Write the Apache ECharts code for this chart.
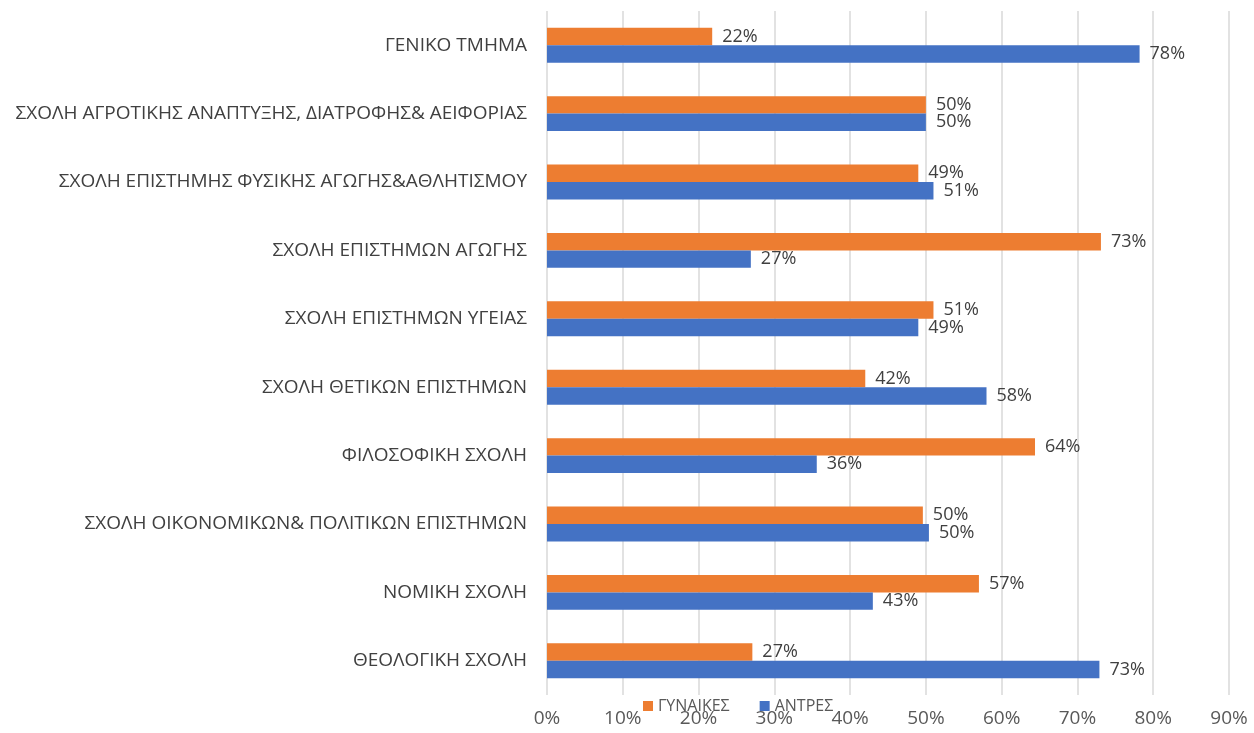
<!DOCTYPE html>
<html>
<head>
<meta charset="utf-8">
<script src="https://cdn.jsdelivr.net/npm/echarts@6/dist/echarts.min.js"></script>
<style>
  html, body { margin: 0; padding: 0; background: #fff; }
  #main { width: 1254px; height: 733px; }
</style>
</head>
<body>
<div id="main"></div>
<script>
// σχολές, από πάνω προς τα κάτω
var categories = [
    'ΓΕΝΙΚΟ ΤΜΗΜΑ',
    'ΣΧΟΛΗ ΑΓΡΟΤΙΚΗΣ ΑΝΑΠΤΥΞΗΣ, ΔΙΑΤΡΟΦΗΣ& ΑΕΙΦΟΡΙΑΣ',
    'ΣΧΟΛΗ ΕΠΙΣΤΗΜΗΣ ΦΥΣΙΚΗΣ ΑΓΩΓΗΣ&ΑΘΛΗΤΙΣΜΟΥ',
    'ΣΧΟΛΗ ΕΠΙΣΤΗΜΩΝ ΑΓΩΓΗΣ',
    'ΣΧΟΛΗ ΕΠΙΣΤΗΜΩΝ ΥΓΕΙΑΣ',
    'ΣΧΟΛΗ ΘΕΤΙΚΩΝ ΕΠΙΣΤΗΜΩΝ',
    'ΦΙΛΟΣΟΦΙΚΗ ΣΧΟΛΗ',
    'ΣΧΟΛΗ ΟΙΚΟΝΟΜΙΚΩΝ& ΠΟΛΙΤΙΚΩΝ ΕΠΙΣΤΗΜΩΝ',
    'ΝΟΜΙΚΗ ΣΧΟΛΗ',
    'ΘΕΟΛΟΓΙΚΗ ΣΧΟΛΗ'
];
var gynaikes = [21.8, 50.0, 49.0, 73.1, 51.0, 42.0, 64.4, 49.6, 57.0, 27.1];
var antres   = [78.2, 50.0, 51.0, 26.9, 49.0, 58.0, 35.6, 50.4, 43.0, 72.9];
var xTicks = { min: 0, max: 90, interval: 10 };

var font = 'Open Sans';
var myChart = echarts.init(document.getElementById('main'));

var label = {
    show: true,
    position: 'right',
    distance: 10,
    color: '#404040',
    fontFamily: font,
    fontSize: 18,
    formatter: function (p) { return Math.round(p.value) + '%'; }
};

var option = {
    animation: false,
    color: ['#ED7D31', '#4472C4'],
    grid: { left: 547, right: 25, top: 11, bottom: 38, containLabel: false },
    legend: {
        bottom: 14,
        left: 638,
        itemWidth: 10,
        itemHeight: 10,
        itemGap: 30,
        icon: 'rect',
        textStyle: { color: '#595959', fontFamily: font, fontSize: 16 },
        data: ['ΓΥΝΑΙΚΕΣ', 'ΑΝΤΡΕΣ']
    },
    xAxis: {
        type: 'value',
        min: xTicks.min,
        max: xTicks.max,
        interval: xTicks.interval,
        axisLine: { show: false },
        axisTick: { show: false },
        axisLabel: {
            formatter: '{value}%',
            color: '#595959',
            fontFamily: font,
            fontSize: 19,
            margin: 14
        },
        splitLine: { lineStyle: { color: '#d9d9d9', width: 1.5 } }
    },
    yAxis: {
        type: 'category',
        inverse: true,
        data: categories,
        axisLine: { show: false },
        axisTick: { show: false },
        axisLabel: {
            color: '#404040',
            fontFamily: font,
            fontSize: 19,
            margin: 20
        }
    },
    series: [
        {
            name: 'ΓΥΝΑΙΚΕΣ',
            type: 'bar',
            data: gynaikes,
            barGap: '0%',
            barCategoryGap: '49%',
            label: label
        },
        {
            name: 'ΑΝΤΡΕΣ',
            type: 'bar',
            data: antres,
            barGap: '0%',
            barCategoryGap: '49%',
            label: label
        }
    ]
};

myChart.setOption(option);
</script>
</body>
</html>
